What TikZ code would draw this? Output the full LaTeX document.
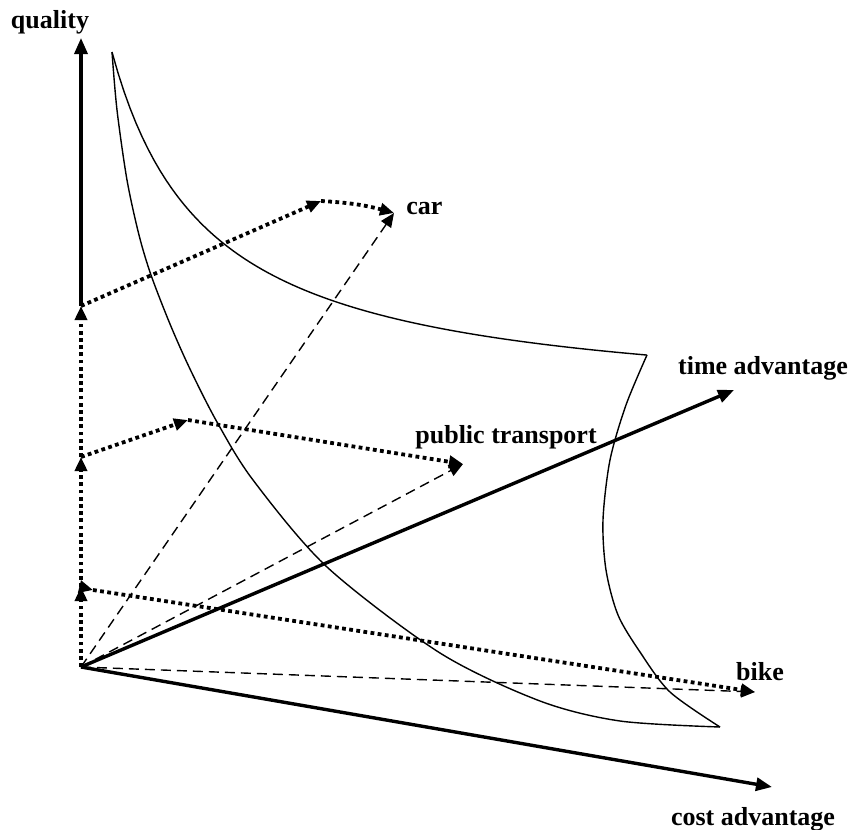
\documentclass[tikz,border=0pt]{standalone}
\usepackage{fontspec}
\setmainfont{Liberation Serif}
\usetikzlibrary{arrows.meta,positioning}

\begin{document}
\begin{tikzpicture}[
	x=0.5pt,y=-0.5pt,
	lbl/.style={font=\fontsize{13}{15}\selectfont\bfseries,inner sep=0pt},
	axis/.style={line width=1.7pt,-{Triangle[length=8pt,width=6.5pt]}},
	part/.style={line width=1.9pt,dash pattern=on 1.9pt off 1.7pt,-{Triangle[length=7pt,width=6pt]}},
	total/.style={line width=0.7pt,dash pattern=on 5pt off 3pt,-{Triangle[length=7pt,width=6pt]}},
	surf/.style={line width=0.7pt}
	]
	\useasboundingbox (0,0) rectangle (853,830);
	
	% axes
	\coordinate (O) at (81,667);
	\coordinate (qtop) at (81,38);
	\coordinate (tend) at (734,390);
	\coordinate (cend) at (772,787);
	
	% quality steps on the vertical axis
	\coordinate (qb) at (81,587);
	\coordinate (qp) at (81,457);
	\coordinate (qc) at (81,306);
	
	% time steps and end points
	\coordinate (tb) at (93,590);
	\coordinate (tp) at (188,420);
	\coordinate (tc) at (321,201);
	\coordinate (bike) at (755,692);
	\coordinate (pt) at (463,464);
	\coordinate (car) at (394,213);
	
	% surface
	\draw[surf] plot[domain=112:647,samples=90] (\x,{410-347.21/((\x-15)/100)});
	\draw[surf] plot[smooth] coordinates {(647,355) (626,405) (610,460) (603,520) (606,570) (618,615) (640,652) (670,692) (720,727)};
	\draw[surf] plot[smooth] coordinates {(112,52) (117,110) (127,180) (139,235) (151,275) (170,324) (190,369) (217,422) (253,480) (327,567) (440,653) (540,701) (620,721) (720,727)};
	
	\draw[axis] (qc) -- (qtop);
	\draw[axis] (O) -- (tend);
	\draw[axis] (O) -- (cend);
	
	\draw[total] (O) -- (car);
	\draw[total] (O) -- (pt);
	\draw[total] (O) -- (bike);
	
	\draw[part] (O) -- (qb);
	\draw[part] (qb) -- (qp);
	\draw[part] (qp) -- (qc);
	\draw[part] (qb) -- (tb);
	\draw[part] (tb) -- (bike);
	\draw[part] (qp) -- (tp);
	\draw[part] (tp) -- (pt);
	\draw[part] (qc) -- (tc);
	\draw[part] (tc) to[bend left=6] (car);
	
	\node[lbl] (qlab) at (50,22) {quality};
	\node[lbl,anchor=west] (carlab) at (406,208) {car};
	\node[lbl,anchor=west] (ptlab) at (415,437) {public transport};
	\node[lbl] (tlab) at (763,368) {time advantage};
	\node[lbl] (blab) at (760,672) {bike};
	\node[lbl] (clab) at (753,819) {cost advantage};
	
\end{tikzpicture}
\end{document}
